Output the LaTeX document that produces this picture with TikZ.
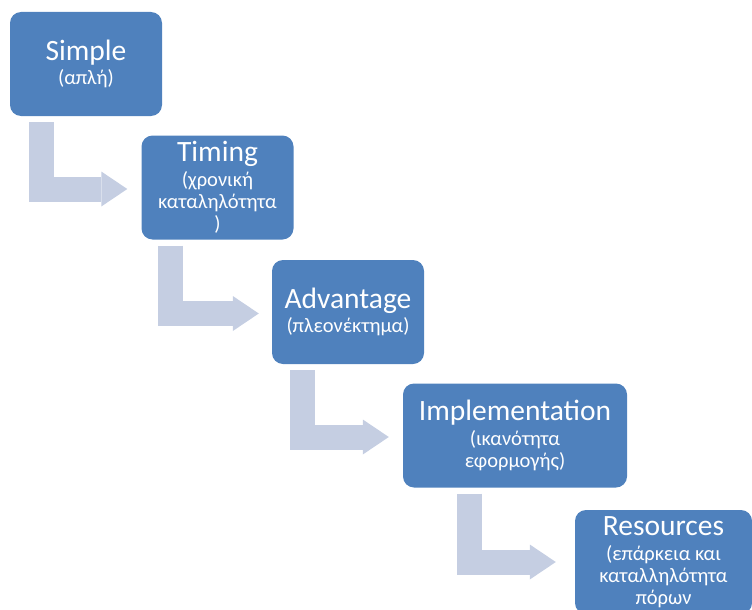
\documentclass[tikz,border=0pt]{standalone}
\usepackage{fontspec}
\setmainfont{Carlito}
\usetikzlibrary{arrows.meta}
\definecolor{stepblue}{HTML}{4F81BD}
\definecolor{flowgrey}{HTML}{C5CEE2}
\tikzset{
  stagebox/.style={fill=stepblue, rounded corners=11pt, minimum height=104pt,
    inner sep=0pt, text=white, align=center, font=\fontsize{20.5}{22}\selectfont},
  bent/.style={draw=flowgrey, line width=25pt, line join=miter, line cap=butt,
    -{Triangle[length=26pt,width=35pt,line width=0pt]}},
}
\newcommand\stagetitle[1]{{\fontsize{29.5}{30}\selectfont #1}}

\begin{document}
\begin{tikzpicture}[x=1pt,y=-1pt]
\useasboundingbox (0,0) rectangle (752,610);

% process stages
\node[stagebox, minimum width=152pt] (simple) at (86,64)
  {\stagetitle{Simple}\\[2pt](απλή)};
\node[stagebox, minimum width=152pt] (timing) at (217.5,187.5)
  {\stagetitle{Timing}\\[3pt](χρονική\\καταληλότητα\\)};
\node[stagebox, minimum width=152pt] (advantage) at (348,312)
  {\stagetitle{Advantage}\\[2pt](πλεονέκτημα)};
\node[stagebox, minimum width=224pt] (impl) at (515,435.5)
  {\stagetitle{Implementation}\\[3pt](ικανότητα\\εφορμογής)};
\node[stagebox, minimum width=177pt] (res) at (663.5,562)
  {\stagetitle{Resources}\\[3pt](επάρκεια και\\καταλληλότητα\\πόρων};

% bent arrows between stages
\draw[bent] ([xshift=31.5pt,yshift=-6pt]simple.south west) |- ([xshift=-14pt,yshift=-1.5pt]timing.west);
\draw[bent] ([xshift=29.5pt,yshift=-6pt]timing.south west) |- ([xshift=-13pt,yshift=-1.5pt]advantage.west);
\draw[bent] ([xshift=31pt,yshift=-6pt]advantage.south west) |- ([xshift=-14pt,yshift=-1.5pt]impl.west);
\draw[bent] ([xshift=67pt,yshift=-6pt]impl.south west) |- ([xshift=-19pt]res.west);
\end{tikzpicture}
\end{document}
